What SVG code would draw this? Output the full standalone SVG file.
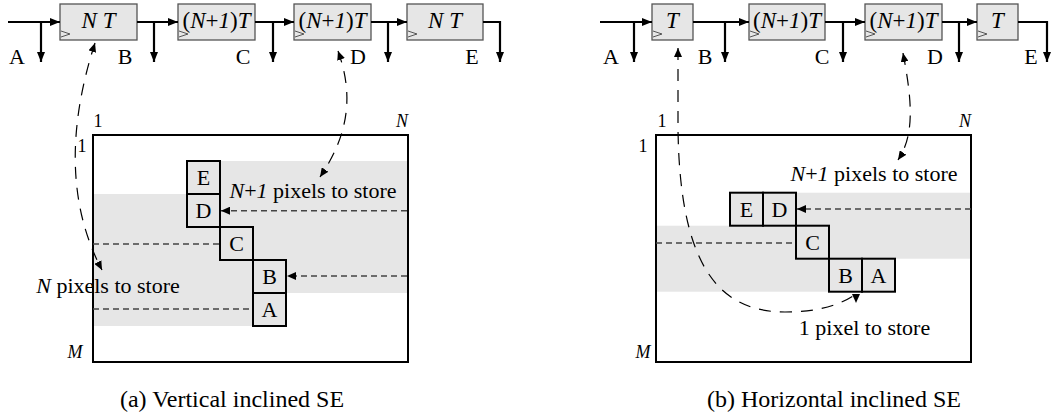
<svg xmlns="http://www.w3.org/2000/svg" width="1052" height="420" viewBox="0 0 1052 420">
<style>
text{font-family:Liberation Serif,Times New Roman,Tinos,Noto Serif,DejaVu Serif,Times,serif;fill:#000}
.lbl{font-size:22px;text-anchor:middle}
.box{font-size:23px;text-anchor:middle}
.cor{font-size:18px;text-anchor:middle}
.ann{font-size:22px;text-anchor:middle}
.cap{font-size:24px;text-anchor:middle}
.i{font-style:italic}
.reg{fill:#e6e6e6;stroke:#555;stroke-width:1.3}
.clk{fill:none;stroke:#555;stroke-width:1}
.wire{fill:none;stroke:#000;stroke-width:2.2;marker-end:url(#arr)}
.band{fill:#e6e6e6;stroke:none}
.cell{fill:#e6e6e6;stroke:#000;stroke-width:2}
.frame{fill:none;stroke:#000;stroke-width:2}
.row{fill:none;stroke:#444;stroke-width:1.4;stroke-dasharray:6,4}
.rowa{marker-end:url(#sarr)}
.curve{fill:none;stroke:#000;stroke-width:1.2;stroke-dasharray:12,9}
</style>
<defs>
<marker id="arr" viewBox="0 0 10 8" refX="10" refY="4" markerWidth="10" markerHeight="8" markerUnits="userSpaceOnUse" orient="auto"><path d="M0,0 L10,4 L0,8 z" fill="#000"/></marker>
<marker id="sarr" viewBox="0 0 9 8" refX="9" refY="4" markerWidth="9" markerHeight="8" markerUnits="userSpaceOnUse" orient="auto-start-reverse"><path d="M0,0 L9,4 L0,8 z" fill="#000"/></marker>
<marker id="darr" viewBox="0 0 9 8" refX="0" refY="4" markerWidth="9" markerHeight="8" markerUnits="userSpaceOnUse" orient="90"><path d="M0,0 L9,4 L0,8 z" fill="#000"/></marker>
</defs>

<!-- Panel (a) top row -->
<g id="a-reg1"><rect class="reg" x="60" y="4" width="77" height="36"/><polyline class="clk" points="61,31 70,34 61,37"/><text class="box" x="98.5" y="28" font-family="Liberation Serif, serif"><tspan class="i">N T</tspan></text></g>
<g id="a-reg2"><rect class="reg" x="178" y="4" width="77" height="36"/><polyline class="clk" points="179,31 188,34 179,37"/><text class="box" x="216.5" y="28">(<tspan class="i">N</tspan>+<tspan class="i">1</tspan>)<tspan class="i">T</tspan></text></g>
<g id="a-reg3"><rect class="reg" x="294" y="4" width="77" height="36"/><polyline class="clk" points="295,31 304,34 295,37"/><text class="box" x="332.5" y="28">(<tspan class="i">N</tspan>+<tspan class="i">1</tspan>)<tspan class="i">T</tspan></text></g>
<g id="a-reg4"><rect class="reg" x="407" y="4" width="76" height="36"/><polyline class="clk" points="408,31 417,34 408,37"/><text class="box" x="445" y="28"><tspan class="i">N T</tspan></text></g>
<g id="a-labels">
<text class="lbl" x="17" y="64">A</text><text class="lbl" x="125" y="64">B</text><text class="lbl" x="243" y="64">C</text><text class="lbl" x="358" y="64">D</text><text class="lbl" x="472" y="64">E</text>
</g>

<!-- Panel (b) top row -->
<g id="b-reg1"><rect class="reg" x="652" y="4" width="41" height="36"/><polyline class="clk" points="653,31 662,34 653,37"/><text class="box" x="672.5" y="28"><tspan class="i">T</tspan></text></g>
<g id="b-reg2"><rect class="reg" x="749" y="4" width="76" height="36"/><polyline class="clk" points="750,31 759,34 750,37"/><text class="box" x="787" y="28">(<tspan class="i">N</tspan>+<tspan class="i">1</tspan>)<tspan class="i">T</tspan></text></g>
<g id="b-reg3"><rect class="reg" x="865" y="4" width="77" height="36"/><polyline class="clk" points="866,31 875,34 866,37"/><text class="box" x="903.5" y="28">(<tspan class="i">N</tspan>+<tspan class="i">1</tspan>)<tspan class="i">T</tspan></text></g>
<g id="b-reg4"><rect class="reg" x="977" y="4" width="41" height="36"/><polyline class="clk" points="978,31 987,34 978,37"/><text class="box" x="997.5" y="28"><tspan class="i">T</tspan></text></g>
<g id="b-labels">
<text class="lbl" x="611" y="64">A</text><text class="lbl" x="705" y="64">B</text><text class="lbl" x="822" y="64">C</text><text class="lbl" x="935" y="64">D</text><text class="lbl" x="1031" y="64">E</text>
</g>

<!-- Panel (a) matrix -->
<g id="a-matrix">
<rect class="band" x="220" y="161" width="188" height="132"/>
<rect class="band" x="93" y="194" width="193" height="132"/>
<rect class="frame" x="93" y="135" width="315" height="227"/>
<text class="cor" x="98" y="127">1</text>
<text class="cor i" x="402" y="127">N</text>
<text class="cor" x="82" y="152">1</text>
<text class="cor i" x="75" y="358">M</text>
</g>
<g id="a-cellE"><rect class="cell" x="187" y="161" width="33" height="33"/><text class="lbl" x="203.5" y="185">E</text></g>
<g id="a-cellD"><rect class="cell" x="187" y="194" width="33" height="33"/><text class="lbl" x="203.5" y="218">D</text></g>
<g id="a-cellC"><rect class="cell" x="220" y="227" width="33" height="33"/><text class="lbl" x="236.5" y="251">C</text></g>
<g id="a-cellB"><rect class="cell" x="253" y="260" width="33" height="33"/><text class="lbl" x="269.5" y="284">B</text></g>
<g id="a-cellA"><rect class="cell" x="253" y="293" width="33" height="33"/><text class="lbl" x="269.5" y="317">A</text></g>
<g id="a-notes">
<text class="ann" x="313" y="198"><tspan class="i">N</tspan>+<tspan class="i">1</tspan> pixels to store</text>
<text class="ann" x="108" y="293"><tspan class="i">N</tspan> pixels to store</text>
</g>

<!-- Panel (b) matrix -->
<g id="b-matrix">
<rect class="band" x="796" y="192.7" width="175" height="66"/>
<rect class="band" x="656" y="225.7" width="173" height="66"/>
<rect class="frame" x="656" y="135" width="315" height="227"/>
<text class="cor" x="662" y="127">1</text>
<text class="cor i" x="965" y="127">N</text>
<text class="cor" x="643" y="152">1</text>
<text class="cor i" x="643" y="358">M</text>
</g>
<g id="b-cellE"><rect class="cell" x="730" y="192.7" width="33" height="33"/><text class="lbl" x="746.5" y="216.7">E</text></g>
<g id="b-cellD"><rect class="cell" x="763" y="192.7" width="33" height="33"/><text class="lbl" x="779.5" y="216.7">D</text></g>
<g id="b-cellC"><rect class="cell" x="796" y="225.7" width="33" height="33"/><text class="lbl" x="812.5" y="249.7">C</text></g>
<g id="b-cellB"><rect class="cell" x="829" y="258.7" width="33" height="33"/><text class="lbl" x="845.5" y="282.7">B</text></g>
<g id="b-cellA"><rect class="cell" x="862" y="258.7" width="33" height="33"/><text class="lbl" x="878.5" y="282.7">A</text></g>
<g id="b-notes">
<text class="ann" x="874" y="181"><tspan class="i">N</tspan>+<tspan class="i">1</tspan> pixels to store</text>
<text class="ann" x="864.5" y="335">1 pixel to store</text>
</g>

<!-- Captions -->
<text class="cap" x="232" y="407">(a) Vertical inclined SE</text>
<text class="cap" x="834" y="407">(b) Horizontal inclined SE</text>

<!-- Connectors -->
<g id="connectors">
<path class="wire" d="M8,22 H60"/>
<path class="wire" d="M41,22 V62"/>
<path class="wire" d="M137,22 H178"/>
<path class="wire" d="M154,22 V62"/>
<path class="wire" d="M255,22 H294"/>
<path class="wire" d="M273,22 V62"/>
<path class="wire" d="M371,22 H407"/>
<path class="wire" d="M388,22 V62"/>
<path class="wire" d="M483,22 H500 V62"/>

<path class="wire" d="M600,22 H652"/>
<path class="wire" d="M634,22 V62"/>
<path class="wire" d="M693,22 H749"/>
<path class="wire" d="M725,22 V62"/>
<path class="wire" d="M825,22 H865"/>
<path class="wire" d="M843,22 V62"/>
<path class="wire" d="M942,22 H977"/>
<path class="wire" d="M959,22 V62"/>
<path class="wire" d="M1018,22 H1047 V62"/>

<path class="row rowa" d="M407,210.7 H221"/>
<path class="row" d="M93,244 H220"/>
<path class="row rowa" d="M407,276 H287"/>
<path class="row" d="M93,309 H253"/>
<path class="row rowa" d="M971,209 H797"/>
<path class="row" d="M656,243 H796"/>

<path class="curve" d="M95,43 C70,120 65,200 102,270" marker-start="url(#sarr)" marker-end="url(#sarr)"/>
<path class="curve" d="M338,51 C352,90 352,130 320,177" marker-start="url(#sarr)" marker-end="url(#sarr)"/>
<path class="curve" d="M903,53 C912,100 915,135 898,160" marker-start="url(#sarr)" marker-end="url(#sarr)"/>
<path class="curve" d="M678,48 L678,130 C680,260 715,312 785,312 C820,312 842,304 856,294" marker-start="url(#sarr)" marker-end="url(#darr)"/>
</g>
</svg>
